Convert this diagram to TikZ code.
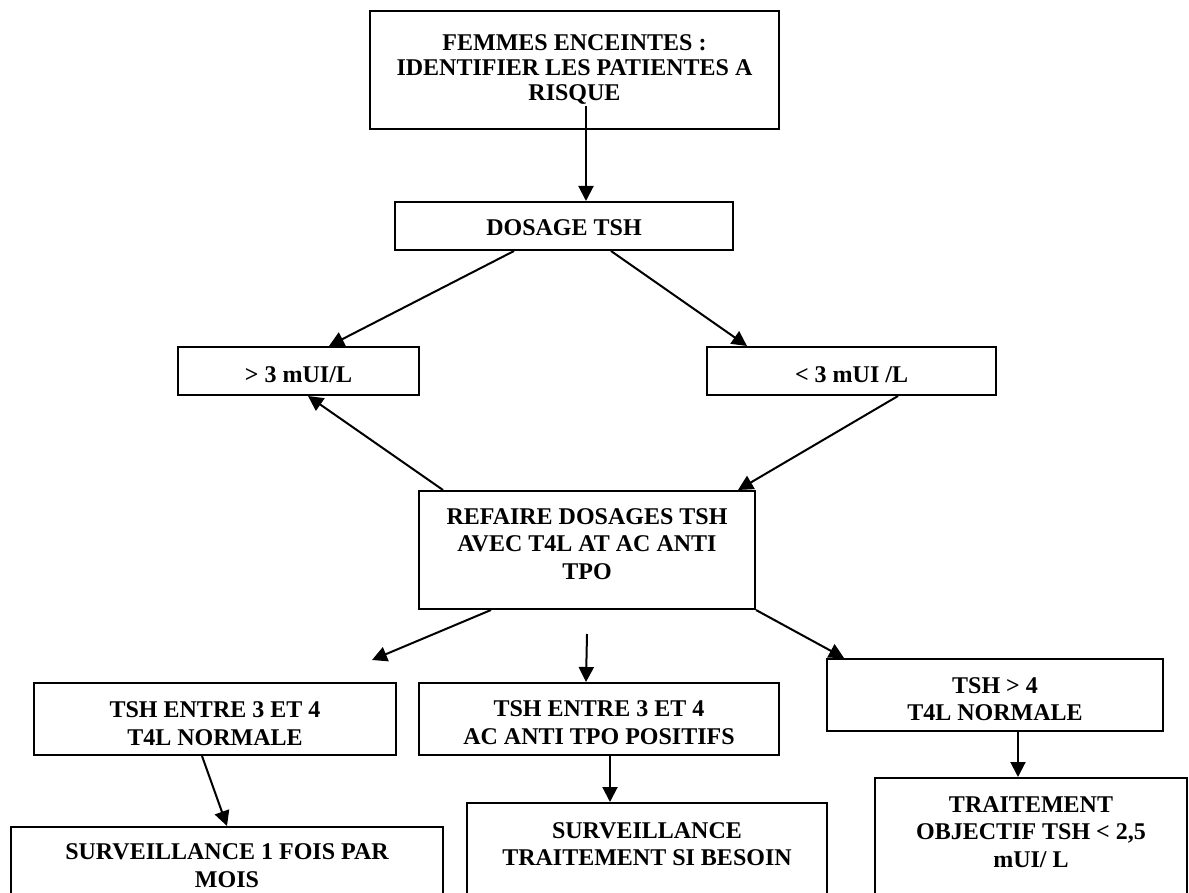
\documentclass[tikz,border=0pt]{standalone}
\usepackage{fontspec}
\setmainfont{Liberation Serif}
\usetikzlibrary{arrows.meta,calc,fit}
\begin{document}
\begin{tikzpicture}[x=1pt,y=-1pt,
  box/.style={draw=black, line width=2pt, rectangle, inner sep=0pt},
  txt/.style={font=\fontsize{24}{27.6}\selectfont\bfseries, align=center, inner sep=0pt, anchor=north},
  arr/.style={line width=2pt, -{Triangle[length=15pt,width=15pt]}}]
\useasboundingbox (0,0) rectangle (1189,893);
\clip (0,0) rectangle (1189,893);
\fill[white] (0,0) rectangle (1189,893);

% boxes
\node[box, fit={(370,11) (779,129)}] (femmes) {};
\node[box, fit={(395,202) (733,250)}] (dosage) {};
\node[box, fit={(178,347) (419,395)}] (gt3) {};
\node[box, fit={(707,347) (996,395)}] (lt3) {};
\node[box, fit={(419,491) (755,609)}] (refaire) {};
\node[box, fit={(34,683) (396,755)}] (left3) {};
\node[box, fit={(419,683) (779,755)}] (mid3) {};
\node[box, fit={(827,659) (1163,731)}] (gt4) {};
\node[box, fit={(11,827) (443,920)}] (surv1) {};
\node[box, fit={(467,803) (827,920)}] (surv2) {};
\node[box, fit={(875,778) (1187,920)}] (trait) {};

% texts
\node[txt, font=\fontsize{24}{25}\selectfont\bfseries] (femmes-t) at (574.5,34) {FEMMES ENCEINTES :\\IDENTIFIER LES PATIENTES A\\RISQUE};
\node[txt] (dosage-t) at (564,219) {DOSAGE TSH};
\node[txt] (gt3-t) at (298.5,366.5) {> 3 mUI/L};
\node[txt] (lt3-t) at (851.5,366) {< 3 mUI /L};
\node[txt] (refaire-t) at (587,508) {REFAIRE DOSAGES TSH\\AVEC T4L AT AC ANTI\\TPO};
\node[txt] (left3-t) at (215,701.5) {TSH ENTRE 3 ET 4\\T4L NORMALE};
\node[txt] (mid3-t) at (599,700.5) {TSH ENTRE 3 ET 4\\AC ANTI TPO POSITIFS};
\node[txt] (gt4-t) at (995,677) {TSH > 4\\T4L NORMALE};
\node[txt] (surv1-t) at (227,843.7) {SURVEILLANCE 1 FOIS PAR\\MOIS};
\node[txt] (surv2-t) at (647,822) {SURVEILLANCE\\TRAITEMENT SI BESOIN};
\node[txt] (trait-t) at (1031,796) {TRAITEMENT\\OBJECTIF TSH < 2,5\\mUI/ L};

% free ends
\coordinate (free1) at (372,660);
\coordinate (free2) at (587,634);

% connectors
\draw[arr] ($(femmes.south west)+(217,-24)$) -- ($(dosage.north west)+(192,0)$);
\draw[arr] ($(dosage.south west)+(120,0)$) -- ($(gt3.north west)+(152,0)$);
\draw[arr] ($(dosage.south west)+(217,0)$) -- ($(lt3.north west)+(41,0)$);
\draw[arr] ($(refaire.north west)+(25,0)$) -- ($(gt3.south west)+(131,0)$);
\draw[arr] ($(lt3.south west)+(192,0)$) -- ($(refaire.north west)+(320,0)$);
\draw[arr] ($(refaire.south west)+(73,0)$) -- (free1);
\draw[arr] (free2) -- ($(mid3.north west)+(168,0)$);
\draw[arr] (refaire.south east) -- ($(gt4.north west)+(18,0)$);
\draw[arr] ($(left3.south west)+(169,0)$) -- ($(surv1.north west)+(217,0)$);
\draw[arr] ($(mid3.south west)+(192,0)$) -- ($(surv2.north west)+(144,0)$);
\draw[arr] ($(gt4.south west)+(192,0)$) -- ($(trait.north west)+(144,0)$);
\end{tikzpicture}
\end{document}
